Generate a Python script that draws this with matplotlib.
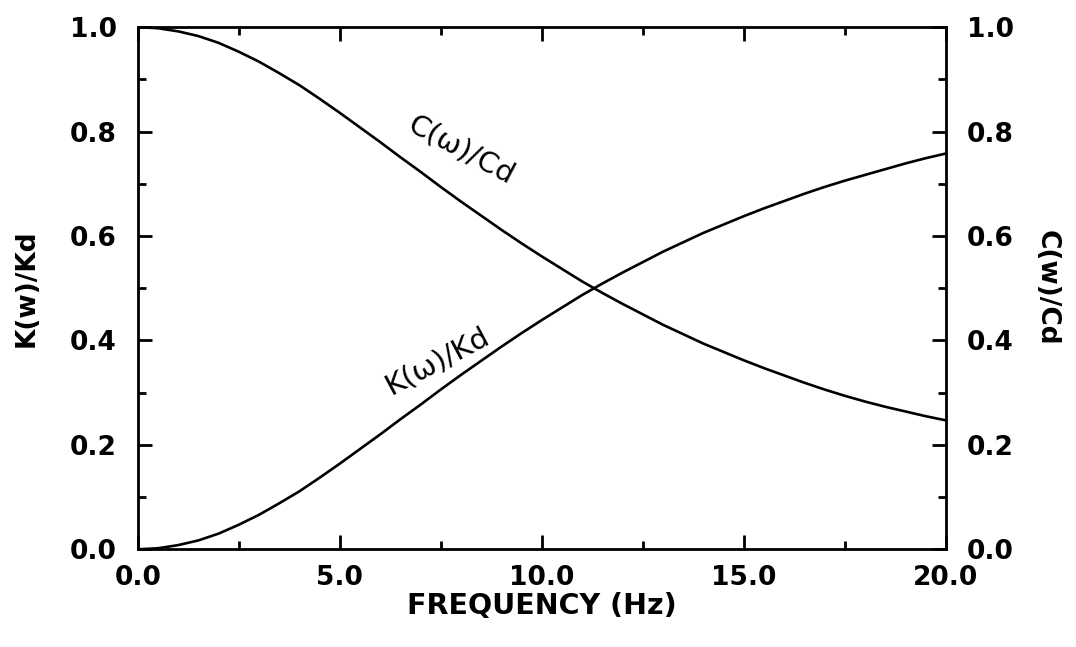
import numpy as np
import matplotlib
matplotlib.use('Agg')
from matplotlib import pyplot as plt
from matplotlib.ticker import MultipleLocator, FormatStrFormatter

# values (every 0.5 Hz)
freq = [0.0, 0.5, 1.0, 1.5, 2.0, 2.5, 3.0, 3.5, 4.0, 4.5, 5.0, 5.5, 6.0, 6.5,
        7.0, 7.5, 8.0, 8.5, 9.0, 9.5, 10.0, 10.5, 11.0, 11.5, 12.0, 12.5, 13.0,
        13.5, 14.0, 14.5, 15.0, 15.5, 16.0, 16.5, 17.0, 17.5, 18.0, 18.5, 19.0,
        19.5, 20.0]
c_ratio = [1.000, 0.998, 0.992, 0.983, 0.970, 0.953, 0.934, 0.912, 0.889, 0.863,
           0.836, 0.808, 0.780, 0.751, 0.723, 0.694, 0.666, 0.639, 0.612, 0.586,
           0.561, 0.537, 0.513, 0.491, 0.470, 0.450, 0.430, 0.412, 0.394, 0.378,
           0.362, 0.347, 0.333, 0.319, 0.306, 0.294, 0.283, 0.273, 0.264, 0.255,
           0.247]
k_ratio = [0.000, 0.002, 0.008, 0.017, 0.030, 0.047, 0.066, 0.088, 0.111, 0.137,
           0.164, 0.192, 0.220, 0.249, 0.277, 0.306, 0.334, 0.361, 0.388, 0.414,
           0.439, 0.463, 0.487, 0.509, 0.530, 0.550, 0.570, 0.588, 0.606, 0.622,
           0.638, 0.653, 0.667, 0.681, 0.694, 0.706, 0.717, 0.728, 0.739, 0.749,
           0.758]

plt.rcParams['font.family'] = ['DejaVu Sans']

fig = plt.figure(figsize=(10.76, 6.47), dpi=100)
ax = fig.add_axes([0.128, 0.151, 0.751, 0.807])

ax.plot(freq, c_ratio, color='black', linewidth=1.9)
ax.plot(freq, k_ratio, color='black', linewidth=1.9)

ax.set_xlim(0, 20)
ax.set_ylim(0, 1)
ax.xaxis.set_major_locator(MultipleLocator(5))
ax.xaxis.set_minor_locator(MultipleLocator(2.5))
ax.yaxis.set_major_locator(MultipleLocator(0.2))
ax.yaxis.set_minor_locator(MultipleLocator(0.1))
ax.xaxis.set_major_formatter(FormatStrFormatter('%.1f'))
ax.yaxis.set_major_formatter(FormatStrFormatter('%.1f'))
ax.tick_params(which='both', direction='in', top=True, width=2)
ax.tick_params(which='major', length=10, labelsize=19)
ax.tick_params(which='minor', length=6)
ax.tick_params(axis='y', pad=15)
ax.tick_params(axis='x', pad=11)
for lab in ax.get_xticklabels() + ax.get_yticklabels():
    lab.set_fontweight('bold')
for s in ax.spines.values():
    s.set_linewidth(2)

ax2 = ax.twinx()
ax2.set_ylim(0, 1)
ax2.yaxis.set_major_locator(MultipleLocator(0.2))
ax2.yaxis.set_minor_locator(MultipleLocator(0.1))
ax2.yaxis.set_major_formatter(FormatStrFormatter('%.1f'))
ax2.tick_params(which='both', direction='in', width=2)
ax2.tick_params(which='major', length=10, labelsize=19, pad=15)
ax2.tick_params(which='minor', length=6)
for lab in ax2.get_yticklabels():
    lab.set_fontweight('bold')

ax.set_xlabel('FREQUENCY (Hz)', fontsize=20.5, fontweight='bold', labelpad=1)
ax.set_ylabel('K(w)/Kd', fontsize=19, fontweight='bold', labelpad=22)
ax2.set_ylabel('C(w)/Cd', fontsize=19, fontweight='bold', rotation=270, labelpad=33)

ax.text(8.0, 0.765, 'C(ω)/Cd', fontsize=21, rotation=-28, ha='center', va='center')
ax.text(7.4, 0.36, 'K(ω)/Kd', fontsize=21, rotation=28, ha='center', va='center')

fig.savefig('out.png', dpi=100)
